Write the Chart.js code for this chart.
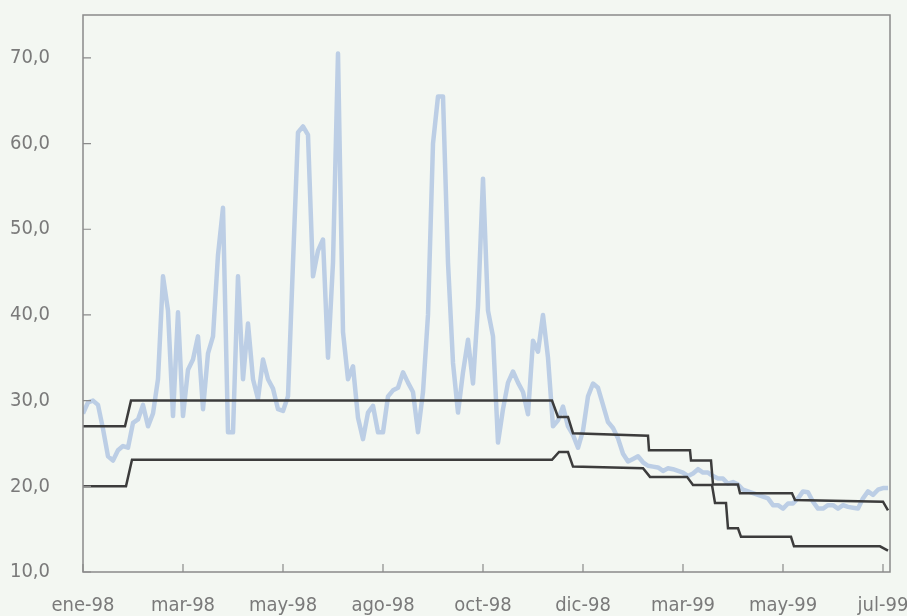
<!DOCTYPE html>
<html>
<head>
<meta charset="utf-8">
<script src="https://cdn.jsdelivr.net/npm/chart.js@4"></script>
<style>
  html, body { margin: 0; padding: 0; background: #f3f7f2; }
  #wrap { width: 907px; height: 616px; }
</style>
</head>
<body>
<div id="wrap"><canvas id="chart"></canvas></div>
<script>
// tick labels on the category axis (one every 20 observations)
const tickLabels = ['ene-98', 'mar-98', 'may-98', 'ago-98', 'oct-98', 'dic-98', 'mar-99', 'may-99', 'jul-99'];
const tickEvery = 20;

// observed rate (light blue)
const rate = [
  28.5, 29.8, 30.0, 29.5, 26.7, 23.5, 23.0, 24.2, 24.7, 24.5,
  27.4, 27.8, 29.5, 27.0, 28.5, 32.5, 44.5, 40.5, 28.2, 40.3,
  28.2, 33.6, 34.8, 37.5, 29.0, 35.5, 37.5, 47.0, 52.5, 26.3,
  26.3, 44.5, 32.5, 39.0, 32.5, 30.2, 34.8, 32.5, 31.4, 29.0,
  28.8, 30.5, 46.1, 61.3, 62.0, 61.0, 44.5, 47.5, 48.8, 35.0,
  46.1, 70.5, 38.0, 32.5, 34.0, 28.0, 25.5, 28.6, 29.4, 26.3,
  26.3, 30.5, 31.2, 31.5, 33.3, 32.1, 31.0, 26.3, 31.0, 40.0,
  60.0, 65.5, 65.5, 46.1, 34.4, 28.6, 33.3, 37.1, 32.0, 41.0,
  55.9, 40.5, 37.5, 25.1, 29.0, 32.1, 33.4, 32.1, 31.0, 28.4,
  37.0, 35.7, 40.0, 35.0, 27.0, 27.7, 29.3, 27.0, 26.0, 24.5,
  26.5, 30.5, 32.0, 31.5, 29.5, 27.5, 26.8, 25.6, 23.8, 22.9,
  23.2, 23.5, 22.8, 22.4, 22.3, 22.2, 21.8, 22.1, 22.0, 21.8,
  21.6, 21.2, 21.5, 22.0, 21.6, 21.6, 21.2, 20.9, 20.9, 20.3,
  20.5, 20.2, 19.6, 19.4, 19.2, 19.0, 18.8, 18.6, 17.8, 17.8,
  17.4, 18.0, 18.0, 18.6, 19.4, 19.3, 18.2, 17.4, 17.4, 17.8,
  17.8, 17.4, 17.8, 17.6, 17.5, 17.4, 18.6, 19.4, 19.0, 19.6,
  19.8, 19.8
];

// band limits (dark lines): observation index / value
const upperX = [0, 8.4, 9.6, 93.8, 95, 97, 98, 113, 113.2, 121.4, 121.6, 125.6, 126, 131, 131.4, 141.8, 142.4, 160, 161];
const upperY = [27.0, 27.0, 30.0, 30.0, 28.1, 28.1, 26.2, 25.9, 24.2, 24.2, 23.0, 23.0, 20.2, 20.2, 19.2, 19.2, 18.4, 18.2, 17.2];
const lowerX = [0, 8.6, 9.8, 93.8, 95.2, 97, 98, 112, 113.4, 120.8, 122, 125.8, 126.4, 128.6, 129, 131, 131.6, 141.6, 142.2, 159.4, 161];
const lowerY = [20.0, 20.0, 23.1, 23.1, 24.0, 24.0, 22.3, 22.1, 21.1, 21.1, 20.15, 20.15, 18.05, 18.05, 15.1, 15.1, 14.1, 14.1, 13.0, 13.0, 12.5];

const pts = (xs, ys) => xs.map((x, i) => ({ x: x, y: ys[i] }));

const axisFont = { family: "'DejaVu Sans Condensed', 'Liberation Sans', sans-serif", size: 20 };
const gray = '#7a7a7a';

const frame = {
  id: 'frame',
  beforeDraw: chart => {
    const ctx = chart.ctx;
    ctx.save();
    ctx.fillStyle = '#f3f7f2';
    ctx.fillRect(0, 0, chart.width, chart.height);
    ctx.restore();
  },
  afterDraw: chart => {
    const ctx = chart.ctx;
    const a = chart.chartArea;
    const xs = chart.scales.x, ys = chart.scales.y;
    ctx.save();
    ctx.strokeStyle = '#8a8a8a';
    ctx.lineWidth = 1.5;
    ctx.strokeRect(a.left, a.top, a.right - a.left, a.bottom - a.top);
    ctx.lineWidth = 1.2;
    ctx.beginPath();
    ys.ticks.forEach(t => {
      const y = ys.getPixelForValue(t.value);
      ctx.moveTo(a.left, y);
      ctx.lineTo(a.left + 8, y);
    });
    xs.ticks.forEach(t => {
      const x = xs.getPixelForValue(t.value);
      ctx.moveTo(x, a.bottom);
      ctx.lineTo(x, a.bottom - 8);
    });
    ctx.stroke();
    ctx.restore();
  }
};

const noPad = axis => {
  axis.paddingTop = 0;
  axis.paddingBottom = 0;
  axis.paddingLeft = 0;
  axis.paddingRight = 0;
};

new Chart(document.getElementById('chart'), {
  type: 'line',
  plugins: [frame],
  data: {
    datasets: [
      {
        label: 'Límite superior',
        data: pts(upperX, upperY),
        borderColor: '#3c3c3c',
        borderWidth: 2.5,
        pointRadius: 0,
        tension: 0
      },
      {
        label: 'Límite inferior',
        data: pts(lowerX, lowerY),
        borderColor: '#3c3c3c',
        borderWidth: 2.5,
        pointRadius: 0,
        tension: 0
      },
      {
        label: 'Tasa',
        data: rate.map((v, i) => ({ x: i, y: v })),
        borderColor: '#bccee5',
        borderWidth: 4.5,
        pointRadius: 0,
        tension: 0,
        borderJoinStyle: 'round'
      }
    ]
  },
  options: {
    responsive: true,
    maintainAspectRatio: false,
    animation: false,
    layout: { padding: { top: 15, right: 17, bottom: 0, left: 0 } },
    plugins: {
      legend: { display: false },
      tooltip: { enabled: false },
      title: { display: false }
    },
    scales: {
      x: {
        type: 'linear',
        min: 0,
        max: 161.4,
        grid: { display: false, drawTicks: false },
        border: { display: false },
        afterBuildTicks: axis => {
          axis.ticks = tickLabels.map((l, i) => ({ value: i * tickEvery }));
        },
        afterFit: axis => { axis.height = 44; noPad(axis); },
        ticks: {
          autoSkip: false,
          maxRotation: 0,
          padding: 22,
          color: gray,
          font: axisFont,
          callback: v => tickLabels[Math.round(v / tickEvery)]
        }
      },
      y: {
        min: 10,
        max: 75,
        grid: { display: false, drawTicks: false },
        border: { display: false },
        afterBuildTicks: axis => {
          axis.ticks = axis.ticks.filter(t => t.value % 10 === 0);
        },
        afterFit: axis => { axis.width = 83; noPad(axis); },
        ticks: {
          stepSize: 10,
          padding: 33,
          color: gray,
          font: axisFont,
          callback: v => v.toFixed(1).replace('.', ',')
        }
      }
    }
  }
});
</script>
</body>
</html>
